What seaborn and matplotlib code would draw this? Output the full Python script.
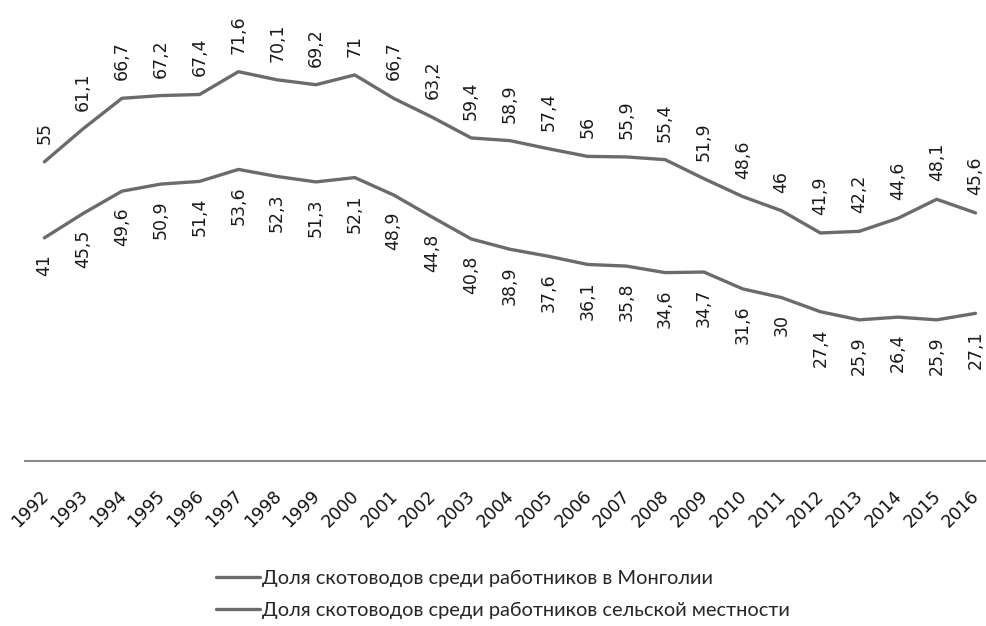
import pandas as pd
import matplotlib
matplotlib.use("Agg")
import matplotlib.pyplot as plt
import matplotlib.transforms as mtrans
import seaborn as sns

years = list(range(1992, 2017))
mongolia = [41, 45.5, 49.6, 50.9, 51.4, 53.6, 52.3, 51.3, 52.1, 48.9, 44.8, 40.8,
            38.9, 37.6, 36.1, 35.8, 34.6, 34.7, 31.6, 30, 27.4, 25.9, 26.4, 25.9, 27.1]
rural = [55, 61.1, 66.7, 67.2, 67.4, 71.6, 70.1, 69.2, 71, 66.7, 63.2, 59.4,
         58.9, 57.4, 56, 55.9, 55.4, 51.9, 48.6, 46, 41.9, 42.2, 44.6, 48.1, 45.6]
name_mn = "Доля скотоводов среди работников в Монголии"
name_rural = "Доля скотоводов среди работников сельской местности"

df = pd.DataFrame({
    "pos": list(range(len(years))) * 2,
    "value": mongolia + rural,
    "series": [name_mn] * len(years) + [name_rural] * len(years),
})

sns.set_theme(style="white")
plt.rcParams["font.family"] = ["DejaVu Sans"]

line_color = "#6b6b6b"
fig = plt.figure(figsize=(9.86, 6.26), dpi=100)
ax = fig.add_axes([25 / 986, 165.5 / 626, 1 - 25 / 986, 460.5 / 626])

sns.lineplot(data=df, x="pos", y="value", hue="series",
             palette=[line_color, line_color], linewidth=2.4, ax=ax, legend=True)


def fmt(v):
    s = f"{v:g}"
    return s.replace(".", ",")


for i, v in enumerate(rural):
    ax.annotate(fmt(v), (i, v), xytext=(0, 13), textcoords="offset points",
                rotation=90, ha="center", va="bottom", fontsize=12.5,
                family="DejaVu Sans", color="#1a1a1a")
for i, v in enumerate(mongolia):
    ax.annotate(fmt(v), (i, v), xytext=(0, -12), textcoords="offset points",
                rotation=90, ha="center", va="top", fontsize=12.5,
                family="DejaVu Sans", color="#1a1a1a")

ax.set_xlim(-0.5, 24.27)
ax.set_ylim(0, 84.8)
ax.set_xticks(range(len(years)))
ax.set_xticklabels([str(y) for y in years], rotation=45, ha="right", va="top",
                   rotation_mode="anchor", fontsize=12.5, color="#111111",
                   family="DejaVu Sans")
ax.tick_params(axis="x", length=0, pad=19)
# nudge the rotated year labels a little to the left
shift = mtrans.ScaledTranslation(-5 / 100, 0, fig.dpi_scale_trans)
for lbl in ax.get_xticklabels():
    lbl.set_transform(lbl.get_transform() + shift)
ax.set_yticks([])
ax.set_xlabel("")
ax.set_ylabel("")
for s in ["top", "right", "left"]:
    ax.spines[s].set_visible(False)
ax.spines["bottom"].set_color("#8a8a8a")
ax.spines["bottom"].set_linewidth(1.5)

handles, labels = ax.get_legend_handles_labels()
ax.get_legend().remove()
fig.legend(handles, labels, loc="center", bbox_to_anchor=(0.51, 0.05),
           ncol=1, frameon=False, handlelength=2.2, handletextpad=0.1,
           labelspacing=0.75, prop={"family": "Lato", "size": 14.4})

fig.savefig("out.png", dpi=100)
